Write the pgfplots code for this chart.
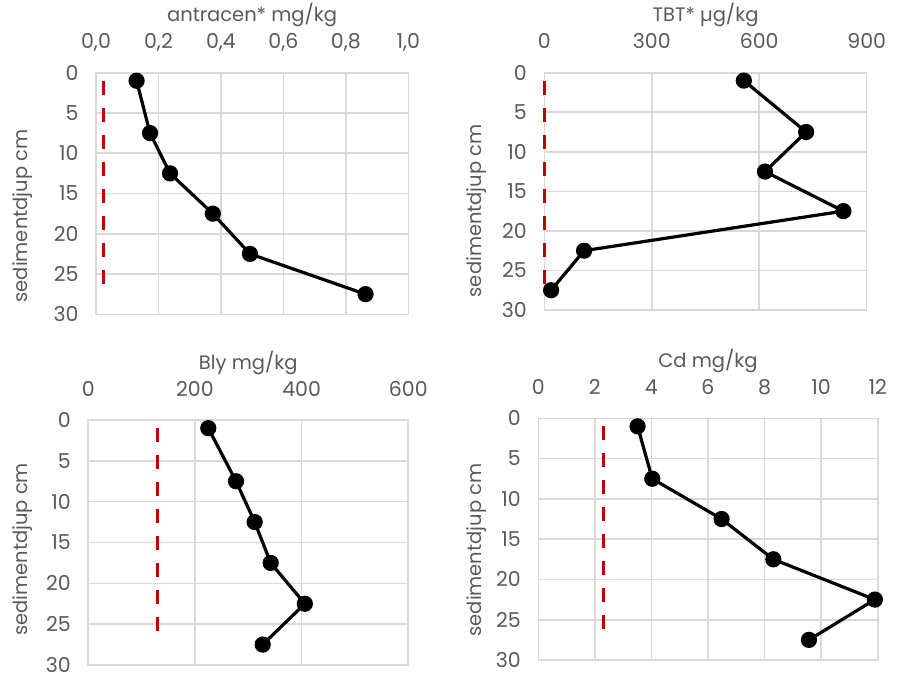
\documentclass[border=0pt]{standalone}
\usepackage{fontspec}
\setmainfont{Poppins}
\usepackage{pgfplots}
\pgfplotsset{compat=1.18}
\definecolor{txt}{HTML}{595959}
\definecolor{grd}{HTML}{D9D9D9}
\definecolor{lim}{HTML}{C00000}

\pgfplotsset{
  prof/.style={
    scale only axis, y dir=reverse, ymin=0, ymax=30, ytick={0,5,...,30},
    xmin=0,
    xticklabel pos=upper, grid=major,
    grid style={grd, line width=1.6pt},
    axis line style={grd, line width=1.6pt},
    major tick length=0pt,
    tick label style={font=\fontsize{20.5}{23}\selectfont, text=txt},
    xticklabel style={anchor=base, yshift=24pt},
    yticklabel style={anchor=east, xshift=-14pt, inner ysep=1pt},
    label style={font=\fontsize{19.5}{22}\selectfont, text=txt},
    title style={font=\fontsize{19.5}{22}\selectfont, text=txt,
      at={(axis description cs:0.5,1)}, anchor=base, yshift=45pt},
    /pgf/number format/assume math mode=true,
    ylabel={sedimentdjup cm},
    clip=false,
  },
  meas/.style={black, line width=3.2pt, mark=*, mark size=6.5pt},
  limit/.style={lim, line width=3pt, dash pattern=on 14pt off 13pt},
}

\begin{document}
\begin{tikzpicture}
\useasboundingbox (0,0) rectangle (898pt,681pt);

% antracen
\begin{axis}[prof, at={(96pt,366.7pt)}, anchor=south west,
  width=312.3pt, height=241.6pt,
  xmax=1, xtick={0,0.2,0.4,0.6,0.8,1},
  xticklabel style={/pgf/number format/.cd, fixed, fixed zerofill, precision=1, use comma},
  title={antracen* mg/kg},
  ylabel style={at={(axis description cs:-0.234,0.407)}, anchor=center}]
\addplot[limit] coordinates {(0.023,1) (0.023,27)};
\addplot[meas] coordinates {(0.13,1) (0.173,7.5) (0.237,12.5) (0.374,17.5) (0.493,22.5) (0.863,27.5)};
\end{axis}

% TBT
\begin{axis}[prof, at={(544.3pt,371pt)}, anchor=south west,
  width=322.4pt, height=237.3pt,
  xmax=900, xtick={0,300,600,900},
  title={TBT* µg/kg},
  ylabel style={at={(axis description cs:-0.211,0.418)}, anchor=center}]
\addplot[limit] coordinates {(1,1) (1,27.5)};
\addplot[meas] coordinates {(557,1) (731,7.5) (616,12.5) (835,17.5) (111,22.5) (19,27.5)};
\end{axis}

% Bly
\begin{axis}[prof, at={(88.3pt,16pt)}, anchor=south west,
  width=320pt, height=245pt,
  xmax=600, xtick={0,200,400,600},
  title={Bly mg/kg},
  ylabel style={at={(axis description cs:-0.206,0.472)}, anchor=center}]
\addplot[limit] coordinates {(129,1) (129,26)};
\addplot[meas] coordinates {(225,1) (277,7.5) (312,12.5) (342,17.5) (406,22.5) (327,27.5)};
\end{axis}

% Cd
\begin{axis}[prof, at={(538.3pt,21pt)}, anchor=south west,
  width=339.4pt, height=241.7pt,
  xmax=12, xtick={0,2,4,6,8,10,12},
  title={Cd mg/kg},
  ylabel style={at={(axis description cs:-0.182,0.455)}, anchor=center}]
\addplot[limit] coordinates {(2.3,1) (2.3,27)};
\addplot[meas] coordinates {(3.51,1) (4.03,7.5) (6.48,12.5) (8.31,17.5) (11.9,22.5) (9.57,27.5)};
\end{axis}
\end{tikzpicture}
\end{document}
